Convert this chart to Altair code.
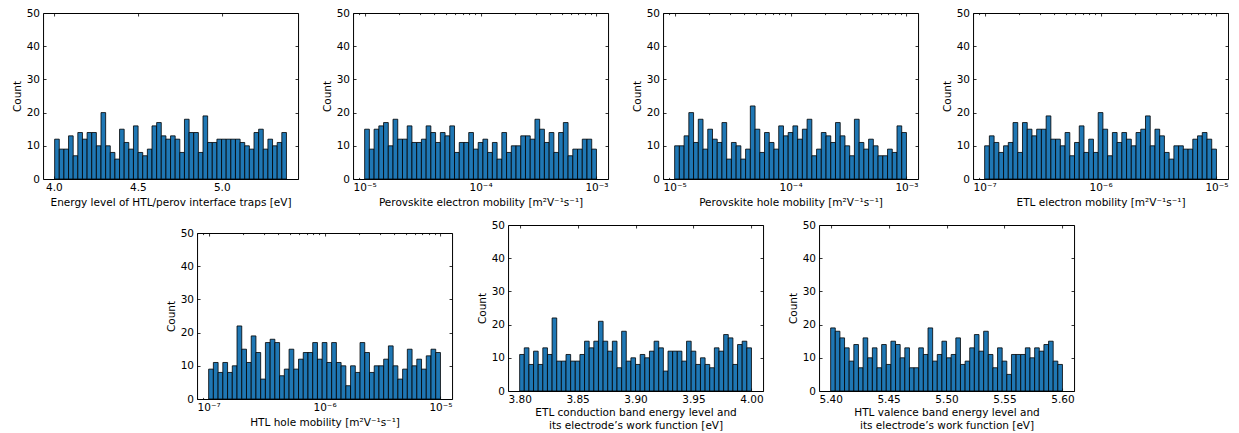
import altair as alt
import numpy as np
import pandas as pd

# ---------------- data (counts per histogram bin) ----------------
counts_traps = [12, 9, 9, 13, 7, 14, 12, 14, 14, 10, 20, 10, 8, 6, 15, 11, 9, 16, 8, 7,
                9, 16, 17, 13, 12, 13, 12, 8, 18, 14, 14, 8, 19, 11, 11, 12, 12, 12, 12, 12,
                11, 10, 9, 14, 15, 9, 12, 10, 11, 14]
counts_pero_e = [15, 9, 15, 16, 17, 10, 18, 12, 12, 16, 11, 11, 12, 16, 14, 11, 14, 13, 16, 8,
                 11, 11, 14, 9, 11, 12, 8, 11, 6, 14, 8, 10, 10, 13, 13, 12, 18, 15, 11, 14,
                 8, 14, 17, 7, 9, 9, 12, 12, 9]
counts_pero_h = [10, 10, 13, 20, 11, 18, 9, 15, 12, 11, 17, 6, 11, 10, 6, 9, 22, 15, 8, 14,
                 11, 9, 16, 13, 14, 16, 12, 15, 18, 7, 9, 14, 13, 11, 17, 13, 10, 7, 18, 11,
                 9, 12, 10, 7, 7, 9, 8, 16, 14]
counts_etl_e = [10, 13, 11, 8, 10, 11, 17, 8, 17, 15, 13, 15, 15, 19, 12, 12, 10, 14, 7, 11,
                16, 8, 12, 8, 20, 15, 7, 14, 11, 14, 12, 10, 14, 15, 19, 10, 15, 13, 8, 6,
                10, 10, 9, 9, 12, 13, 14, 12, 9]
counts_htl_h = [9, 11, 8, 11, 8, 10, 22, 15, 11, 19, 14, 6, 17, 18, 17, 7, 9, 15, 9, 12,
                14, 14, 17, 12, 17, 11, 17, 11, 10, 4, 10, 8, 17, 14, 8, 10, 10, 12, 16, 10,
                6, 9, 15, 10, 12, 9, 13, 15, 14]
counts_etl_cb = [11, 13, 8, 12, 8, 13, 11, 22, 9, 9, 11, 9, 9, 11, 15, 13, 15, 21, 15, 12,
                 15, 7, 18, 9, 10, 8, 11, 10, 12, 15, 13, 6, 12, 12, 12, 9, 15, 12, 8, 10,
                 8, 7, 13, 12, 17, 16, 8, 14, 15, 13]
counts_htl_vb = [19, 18, 16, 13, 9, 14, 7, 16, 10, 13, 7, 14, 8, 15, 14, 10, 13, 7, 7, 13,
                 11, 19, 9, 11, 15, 10, 11, 16, 8, 9, 13, 17, 12, 18, 11, 7, 13, 9, 5, 11,
                 11, 11, 13, 10, 13, 12, 14, 15, 9, 8]

# sampled ranges (first and last bin edge)
range_traps = [4.005, 5.385]
range_pero = [1e-5, 1e-3]
range_etl_htl_mob = [1e-7, 1e-5]
range_etl_cb = [3.80, 4.00]
range_htl_vb = [5.40, 5.60]

ticks_traps = [4.0, 4.5, 5.0]
ticks_pero = [1e-5, 1e-4, 1e-3]
ticks_mob = [1e-7, 1e-6, 1e-5]
ticks_etl_cb = [3.80, 3.85, 3.90, 3.95, 4.00]
ticks_htl_vb = [5.40, 5.45, 5.50, 5.55, 5.60]
ticks_count = [0, 10, 20, 30, 40, 50]

title_traps = "Energy level of HTL/perov interface traps [eV]"
title_pero_e = "Perovskite electron mobility [m²V⁻¹s⁻¹]"
title_pero_h = "Perovskite hole mobility [m²V⁻¹s⁻¹]"
title_etl_e = "ETL electron mobility [m²V⁻¹s⁻¹]"
title_htl_h = "HTL hole mobility [m²V⁻¹s⁻¹]"
title_etl_cb = ["ETL conduction band energy level and", "its electrode’s work function [eV]"]
title_htl_vb = ["HTL valence band energy level and", "its electrode’s work function [eV]"]

# ---------------- styling ----------------
BLUE = "#1f77b4"
FONT = "DejaVu Sans"
W, H = 255, 166
MAJ = 3
MIN = 1.6
LOG_LABEL = "'10' + ['⁻⁷','⁻⁶','⁻⁵','⁻⁴','⁻³'][round(log(datum.value)/LN10)+7]"


def panel(counts, rng, log, ticks, title, fmt=None):
    n = len(counts)
    if log:
        edges = np.logspace(np.log10(rng[0]), np.log10(rng[1]), n + 1)
        l0, l1 = np.log10(rng[0]), np.log10(rng[1])
        m = 0.05 * (l1 - l0)
        domain = [10 ** (l0 - m), 10 ** (l1 + m)]
    else:
        edges = np.linspace(rng[0], rng[1], n + 1)
        m = 0.05 * (rng[1] - rng[0])
        domain = [rng[0] - m, rng[1] + m]
    df = pd.DataFrame({"x0": edges[:-1], "x1": edges[1:], "count": counts})
    xscale = alt.Scale(type="log" if log else "linear", domain=domain, nice=False, zero=False)
    yscale = alt.Scale(domain=[0, 50], nice=False, zero=True)

    xa = dict(values=ticks, title=title, offset=-MAJ, tickSize=MAJ, domain=False, grid=False,
              labelFlush=False)
    if isinstance(title, list):
        xa["titlePadding"] = 2
    if log:
        xa["labelExpr"] = LOG_LABEL
    elif fmt:
        xa["format"] = fmt
    base = alt.Chart(df)
    bars = base.mark_bar(fill=BLUE, stroke="black", strokeWidth=0.8).encode(
        x=alt.X("x0:Q", scale=xscale, axis=alt.Axis(**xa)),
        x2="x1:Q",
        y=alt.Y("count:Q", scale=yscale,
                axis=alt.Axis(values=ticks_count, title="Count", offset=-MAJ, tickSize=MAJ,
                              domain=False, grid=False)),
        y2=alt.datum(0),
    )
    opp = base.mark_bar(opacity=0).encode(
        x=alt.X("x0:Q", scale=xscale,
                axis=alt.Axis(orient="top", values=ticks, labels=False, title=None,
                              offset=-MAJ, tickSize=MAJ, domain=False, grid=False)),
        x2="x1:Q",
        y=alt.Y("count:Q", scale=yscale,
                axis=alt.Axis(orient="right", values=ticks_count, labels=False, title=None,
                              offset=-MAJ, tickSize=MAJ, domain=False, grid=False)),
        y2=alt.datum(0),
    )
    layers = [bars, opp]
    if log:
        lo = int(np.floor(np.log10(domain[0])))
        hi = int(np.ceil(np.log10(domain[1])))
        minor = [mm * 10.0 ** e for e in range(lo, hi) for mm in range(2, 10)
                 if domain[0] <= mm * 10.0 ** e <= domain[1]]
        for orient in ["bottom", "top"]:
            layers.append(base.mark_bar(opacity=0).encode(
                x=alt.X("x0:Q", scale=xscale,
                        axis=alt.Axis(orient=orient, values=minor, labels=False, title=None,
                                      offset=-MIN, tickSize=MIN, domain=False, grid=False)),
                x2="x1:Q",
                y=alt.Y("count:Q", scale=yscale, axis=None),
                y2=alt.datum(0),
            ))
    return alt.layer(*layers).resolve_axis(x="independent", y="independent").properties(
        width=W, height=H)


p1 = panel(counts_traps, range_traps, False, ticks_traps, title_traps, ".1f")
p2 = panel(counts_pero_e, range_pero, True, ticks_pero, title_pero_e)
p3 = panel(counts_pero_h, range_pero, True, ticks_pero, title_pero_h)
p4 = panel(counts_etl_e, range_etl_htl_mob, True, ticks_mob, title_etl_e)
p5 = panel(counts_htl_h, range_etl_htl_mob, True, ticks_mob, title_htl_h)
p6 = panel(counts_etl_cb, range_etl_cb, False, ticks_etl_cb, title_etl_cb, ".2f")
p7 = panel(counts_htl_vb, range_htl_vb, False, ticks_htl_vb, title_htl_vb, ".2f")

spacer = alt.Chart(pd.DataFrame({"a": [0]})).mark_point(opacity=0, size=0).encode(
    x=alt.X("a:Q", axis=None), y=alt.Y("a:Q", axis=None)
).properties(width=200, height=1, view=alt.ViewBackground(stroke="transparent"))

p5w = alt.vconcat(spacer, p5, spacing=0)

row1 = alt.hconcat(p1, p2, p3, p4, spacing=55, bounds="flush")
row2 = alt.hconcat(p5w, p6, p7, spacing=23)

chart = alt.vconcat(row1, row2, spacing=11, center=True).properties(
    padding={"left": 3, "top": -1, "right": 0, "bottom": 0}
).configure_view(stroke="black", strokeWidth=1).configure_axis(
    labelFont=FONT, titleFont=FONT, labelFontSize=10.5, titleFontSize=10.5,
    labelColor="black", titleColor="black", tickColor="black", tickWidth=0.8,
    titleFontWeight="normal", labelPadding=3.5, titlePadding=4, titleLineHeight=13,
)

chart.save("out.html", embed_options={"renderer": "svg", "actions": False})
